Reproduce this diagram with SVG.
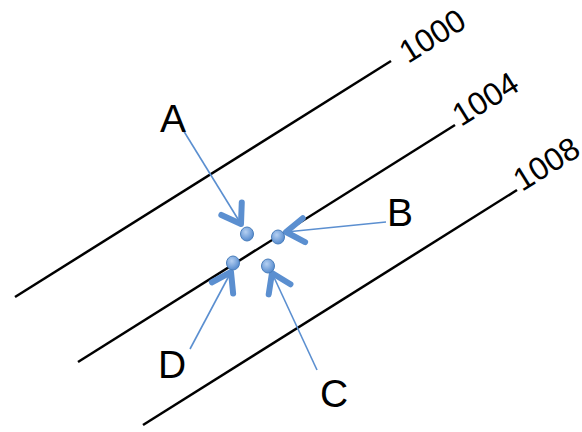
<svg xmlns="http://www.w3.org/2000/svg" width="582" height="432" viewBox="0 0 582 432">
<style>
.iso{stroke:#000;stroke-width:2.5;fill:none}
.num{font-family:"Liberation Sans",Arial,sans-serif;font-size:32px;fill:#000}
.lbl{font-family:"Liberation Sans",Arial,sans-serif;font-size:39px;fill:#000}
.arr{stroke:#5b8fd0;stroke-width:1.6;fill:none;marker-end:url(#head)}
.dot{fill:url(#dg);stroke:#4a7ebb;stroke-width:1}
</style>
<defs>
<marker id="head" markerUnits="userSpaceOnUse" markerWidth="50" markerHeight="50" viewBox="-25 -25 50 50" refX="0" refY="0" orient="auto">
<path d="M -18,-12 L 0,0 L -18,12" fill="none" stroke="#5b8fd0" stroke-width="6" stroke-linecap="round" stroke-linejoin="round"/>
</marker>
<radialGradient id="dg" cx="0.4" cy="0.35" r="0.7">
<stop offset="0" stop-color="#b5d0f2"/>
<stop offset="1" stop-color="#4f86cc"/>
</radialGradient>
</defs>
<g id="isobars">
<g id="iso1000"><line class="iso" x1="15" y1="297" x2="391" y2="61"/><text class="num" transform="translate(408,64) rotate(-32)">1000</text></g>
<g id="iso1004"><line class="iso" x1="78" y1="362" x2="455" y2="125"/><text class="num" transform="translate(461,127) rotate(-32)">1004</text></g>
<g id="iso1008"><line class="iso" x1="143" y1="425" x2="517" y2="190"/><text class="num" transform="translate(522,192) rotate(-32)">1008</text></g>
</g>
<g id="connectors">
<line class="arr" x1="180" y1="125" x2="241" y2="224"/>
<line class="arr" x1="386" y1="222" x2="286" y2="232"/>
<line class="arr" x1="190" y1="349" x2="231" y2="272"/>
<line class="arr" x1="317" y1="370" x2="272" y2="273"/>
</g>
<g id="nodeA"><ellipse class="dot" cx="247" cy="234" rx="6.5" ry="7"/><text class="lbl" x="160" y="132">A</text></g>
<g id="nodeB"><ellipse class="dot" cx="278" cy="237" rx="6.5" ry="7"/><text class="lbl" x="387" y="226">B</text></g>
<g id="nodeC"><ellipse class="dot" cx="268" cy="266" rx="6.5" ry="7"/><text class="lbl" x="320" y="407">C</text></g>
<g id="nodeD"><ellipse class="dot" cx="233" cy="263" rx="6.5" ry="7"/><text class="lbl" x="158" y="378">D</text></g>
</svg>
